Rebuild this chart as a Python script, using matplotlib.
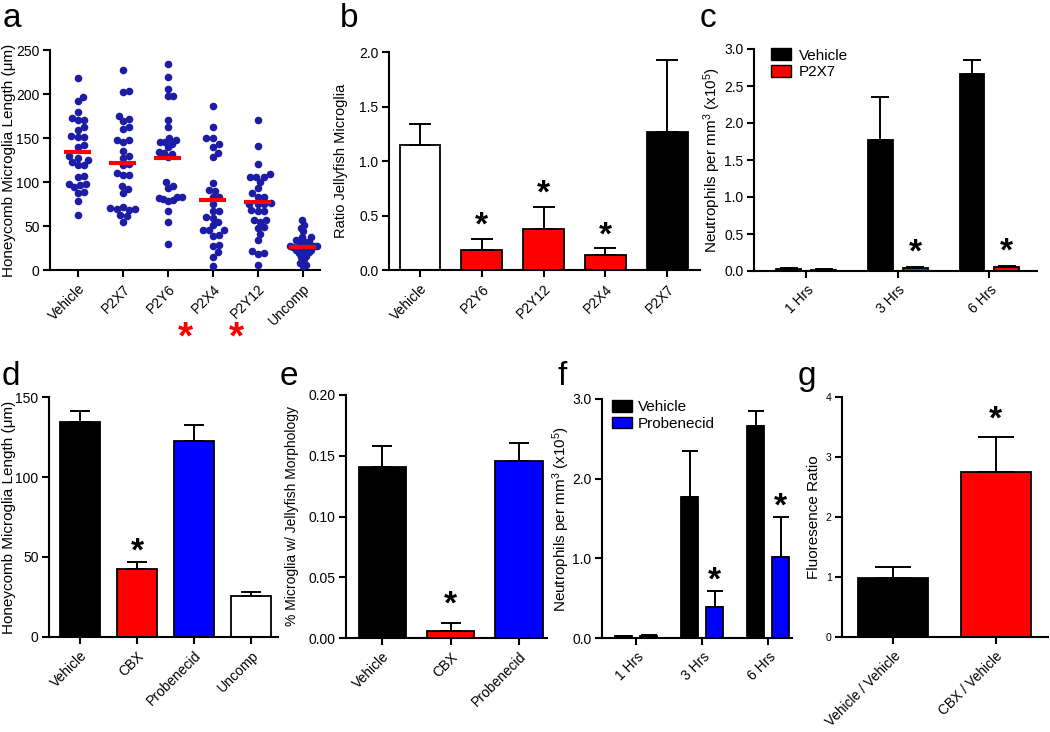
import numpy as np
import matplotlib.pyplot as plt
from matplotlib.patches import Patch

plt.rcParams['font.family'] = ['Liberation Sans', 'DejaVu Sans']
plt.rcParams['mathtext.fontset'] = 'custom'
plt.rcParams['mathtext.rm'] = 'Liberation Sans'
plt.rcParams['mathtext.it'] = 'Liberation Sans:italic'
plt.rcParams['font.size'] = 10

# ---- panel a: honeycomb length per cell ----
a_groups = ['Vehicle', 'P2X7', 'P2Y6', 'P2X4', 'P2Y12', 'Uncomp']
a_vehicle = [218, 197, 192, 179, 170, 173, 170, 162, 159, 152, 151, 151, 140, 142, 127,
             125, 123, 119, 119, 107, 98, 98, 106, 97, 94, 88, 89, 78, 63, 129]
a_p2x7 = [227, 203, 202, 175, 169, 172, 162, 160, 148, 148, 146, 135, 129, 127, 121,
          119, 110, 108, 108, 95, 92, 87, 71, 69, 69, 72, 63, 61, 55, 68]
a_p2y6 = [234, 219, 206, 198, 198, 170, 162, 146, 150, 146, 140, 143, 148, 133, 132,
          134, 128, 100, 95, 93, 83, 82, 81, 78, 80, 67, 55, 29, 83]
a_p2x4 = [186, 162, 150, 150, 143, 140, 128, 133, 99, 90, 91, 83, 83, 67, 67, 75, 59,
          60, 51, 55, 45, 45, 45, 40, 39, 27, 28, 20, 15, 4]
a_p2y12 = [171, 141, 120, 109, 106, 106, 106, 100, 93, 87, 83, 83, 67, 67, 68, 57, 57,
           55, 48, 41, 49, 34, 19, 18, 22, 6, 75, 75, 76, 75]
a_uncomp = [57, 51, 48, 44, 38, 32, 37, 32, 27, 30, 27, 27, 21, 23, 21, 16, 19, 12, 8,
            5, 6, 15, 25, 26, 26, 23, 34, 32]
a_means = [134, 122, 127, 80, 77, 26]

# ---- panel b ----
b_groups = ['Vehicle', 'P2Y6', 'P2Y12', 'P2X4', 'P2X7']
b_vals = [1.145, 0.186, 0.379, 0.134, 1.264]
b_sem = [0.19, 0.10, 0.20, 0.064, 0.663]

# ---- panel c ----
c_times = ['1 Hrs', '3 Hrs', '6 Hrs']
c_vehicle = [0.03, 1.77, 2.666]
c_vehicle_sem = [0.005, 0.575, 0.18]
c_p2x7 = [0.02, 0.04, 0.05]
c_p2x7_sem = [0.003, 0.01, 0.012]

# ---- panel d ----
d_groups = ['Vehicle', 'CBX', 'Probenecid', 'Uncomp']
d_vals = [134.6, 42.5, 122.5, 25.8]
d_sem = [6.7, 4.2, 10.2, 2.5]

# ---- panel e ----
e_groups = ['Vehicle', 'CBX', 'Probenecid']
e_vals = [0.1408, 0.006, 0.1458]
e_sem = [0.0172, 0.0063, 0.0147]

# ---- panel f ----
f_times = ['1 Hrs', '3 Hrs', '6 Hrs']
f_vehicle = [0.02, 1.767, 2.665]
f_vehicle_sem = [0.005, 0.583, 0.188]
f_prob = [0.03, 0.386, 1.02]
f_prob_sem = [0.005, 0.2, 0.503]

# ---- panel g ----
g_groups = ['Vehicle / Vehicle', 'CBX / Vehicle']
g_vals = [0.986, 2.752]
g_sem = [0.178, 0.585]

RED = '#ff0000'
BLUE = '#0000ff'
DOT = '#1c1ca6'

W, H = 1050, 732
fig = plt.figure(figsize=(W / 100, H / 100), dpi=100)


def axes_px(x0, y0, x1, y1):
    return fig.add_axes([x0 / W, 1 - y1 / H, (x1 - x0) / W, (y1 - y0) / H])


def style(ax, labels, fs=10, xfs=10):
    for s in ['top', 'right']:
        ax.spines[s].set_visible(False)
    for s in ['left', 'bottom']:
        ax.spines[s].set_linewidth(1.5)
    ax.tick_params(direction='out', width=1.5, length=5, labelsize=fs)
    ax.tick_params(axis='y', pad=2.5)
    ax.set_xticks(range(len(labels)))
    ax.set_xticklabels(labels, rotation=45, ha='right', rotation_mode='anchor', fontsize=xfs)


def ylab(ax, text, xpos, fs=11):
    ax.set_ylabel(text, fontsize=fs)
    ax.yaxis.set_label_coords(xpos, 0.5)


def bars(ax, x, vals, sem, colors, width, cap):
    ax.bar(x, vals, width, color=colors, edgecolor='black', linewidth=1.3, zorder=2)
    ax.errorbar(x, vals, yerr=[np.zeros(len(vals)), sem], fmt='none', ecolor='black',
                elinewidth=1.4, capsize=cap, capthick=1.4, zorder=3)


def star(ax, x, y, pad=3, size=24, color='black'):
    ax.annotate('*', (x, y), xytext=(0, pad), textcoords='offset points',
                ha='center', va='baseline', fontsize=size, fontweight='bold',
                color=color, annotation_clip=False)


def swarm(ax, xc, vals, d=6.5, maxw=14):
    # simple beeswarm in pixel space, squeezed to a maximum half width
    vals = np.asarray(vals, float)
    pts = ax.transData.transform(np.column_stack([np.full(len(vals), xc), vals]))
    ys = pts[:, 1]
    order = np.argsort(ys)
    placed = []
    offs = np.zeros(len(vals))
    for i in order:
        y = ys[i]
        cands = [0.0]
        for (px, py) in placed:
            dy = abs(py - y)
            if dy < d:
                dx = np.sqrt(d * d - dy * dy)
                cands += [px + dx, px - dx]
        cands.sort(key=abs)
        for c in cands:
            if all((c - px) ** 2 + (y - py) ** 2 >= d * d - 1e-6 for px, py in placed):
                offs[i] = c
                break
        placed.append((offs[i], y))
    m = np.abs(offs).max()
    if m > maxw:
        offs = offs * maxw / m
    xs = ax.transData.inverted().transform(np.column_stack([pts[:, 0] + offs, ys]))[:, 0]
    ax.scatter(xs, vals, s=30, color=DOT, linewidths=0, zorder=3, clip_on=False)


# ---------------- a ----------------
ax = axes_px(50, 50, 320, 270)
ax.set_xlim(-0.62, 5.38)
ax.set_ylim(0, 250)
style(ax, a_groups)
ax.set_yticks([0, 50, 100, 150, 200, 250])
for i, v in enumerate([a_vehicle, a_p2x7, a_p2y6, a_p2x4, a_p2y12, a_uncomp]):
    swarm(ax, i, v)
ax.hlines(a_means, np.arange(6) - 0.3, np.arange(6) + 0.3, color=RED, lw=3, zorder=4)
ylab(ax, 'Honeycomb Microglia Length (\u03bcm)', -0.125)
for i, dx in [(3, -0.62), (4, -0.47)]:
    ax.text(i + dx, -0.31, '*', transform=ax.get_xaxis_transform(), ha='center',
            va='center', fontsize=28, fontweight='bold', color=RED)

# ---------------- b ----------------
ax = axes_px(389, 52, 700, 270)
ax.set_xlim(-0.5, 4.53)
ax.set_ylim(0, 2.0)
style(ax, b_groups)
ax.set_yticks([0, 0.5, 1.0, 1.5, 2.0])
ax.yaxis.set_major_formatter('{x:.1f}')
bars(ax, range(5), b_vals, b_sem, ['white', RED, RED, RED, 'black'], 0.66, 8)
for i in [1, 2, 3]:
    star(ax, i, b_vals[i] + b_sem[i])
ylab(ax, 'Ratio Jellyfish Microglia', -0.132, fs=10.5)

# ---------------- c ----------------
ax = axes_px(754, 49, 1037, 271)
ax.set_xlim(-0.57, 2.52)
ax.set_ylim(0, 3.0)
style(ax, c_times)
ax.set_yticks(np.arange(0, 3.01, 0.5))
ax.yaxis.set_major_formatter('{x:.1f}')
x = np.arange(3)
bars(ax, x - 0.19, c_vehicle, c_vehicle_sem, 'black', 0.27, 6.5)
bars(ax, x + 0.19, c_p2x7, c_p2x7_sem, RED, 0.27, 6.5)
for i in [1, 2]:
    star(ax, i + 0.19, c_p2x7[i] + c_p2x7_sem[i], pad=4)
ylab(ax, 'Neutrophils per mm$^{3}$ (x10$^{5}$)', -0.11)
ax.legend([Patch(facecolor='black', edgecolor='black'), Patch(facecolor=RED, edgecolor='black')],
          ['Vehicle', 'P2X7'], loc='upper left', bbox_to_anchor=(0.04, 1.03), frameon=False,
          fontsize=11, handlelength=1.3, handleheight=0.8, labelspacing=0.15, handletextpad=0.5,
          borderaxespad=0)

# ---------------- d ----------------
ax = axes_px(49, 397, 278, 637)
ax.set_xlim(-0.54, 3.47)
ax.set_ylim(0, 150)
style(ax, d_groups)
ax.set_yticks([0, 50, 100, 150])
bars(ax, range(4), d_vals, d_sem, ['black', RED, BLUE, 'white'], 0.7, 7)
star(ax, 1, d_vals[1] + d_sem[1], pad=1)
ylab(ax, 'Honeycomb Microglia Length (\u03bcm)', -0.145)

# ---------------- e ----------------
ax = axes_px(346, 395, 547, 638)
ax.set_xlim(-0.53, 2.41)
ax.set_ylim(0, 0.20)
style(ax, e_groups)
ax.set_yticks([0, 0.05, 0.10, 0.15, 0.20])
ax.yaxis.set_major_formatter('{x:.2f}')
bars(ax, range(3), e_vals, e_sem, ['black', RED, BLUE], 0.69, 7)
star(ax, 1, e_vals[1] + e_sem[1], pad=7)
ylab(ax, '% Microglia w/ Jellyfish Morphology', -0.234, fs=10)

# ---------------- f ----------------
ax = axes_px(602, 399, 792, 638)
ax.set_xlim(-0.52, 2.36)
ax.set_ylim(0, 3.0)
style(ax, f_times)
ax.set_yticks([0, 1.0, 2.0, 3.0])
ax.yaxis.set_major_formatter('{x:.1f}')
bars(ax, x - 0.19, f_vehicle, f_vehicle_sem, 'black', 0.26, 6)
bars(ax, x + 0.19, f_prob, f_prob_sem, BLUE, 0.26, 6)
for i in [1, 2]:
    star(ax, i + 0.19, f_prob[i] + f_prob_sem[i], pad=1)
ylab(ax, 'Neutrophils per mm$^{3}$ (x10$^{5}$)', -0.16)
ax.legend([Patch(facecolor='black', edgecolor='black'), Patch(facecolor=BLUE, edgecolor='black')],
          ['Vehicle', 'Probenecid'], loc='upper left', bbox_to_anchor=(0.02, 1.02), frameon=False,
          fontsize=11, handlelength=1.3, handleheight=0.8, labelspacing=0.15, handletextpad=0.4,
          borderaxespad=0)

# ---------------- g ----------------
ax = axes_px(842, 397, 1048, 637)
ax.set_xlim(-0.5, 1.51)
ax.set_ylim(0, 4)
style(ax, g_groups, fs=7.5, xfs=9.8)
ax.set_yticks([0, 1, 2, 3, 4])
bars(ax, range(2), g_vals, g_sem, ['black', RED], 0.68, 13)
star(ax, 1, g_vals[1] + g_sem[1], pad=6)
ylab(ax, 'Fluoresence Ratio', -0.1, fs=11)

# panel letters
for lab, px, py in [('a', 3, 27), ('b', 340, 27), ('c', 700, 27), ('d', 2, 385),
                    ('e', 280, 385), ('f', 558, 385), ('g', 798, 385)]:
    fig.text(px / W, 1 - py / H, lab, fontsize=24, va='baseline', ha='left')

fig.savefig('out.png', dpi=100)
